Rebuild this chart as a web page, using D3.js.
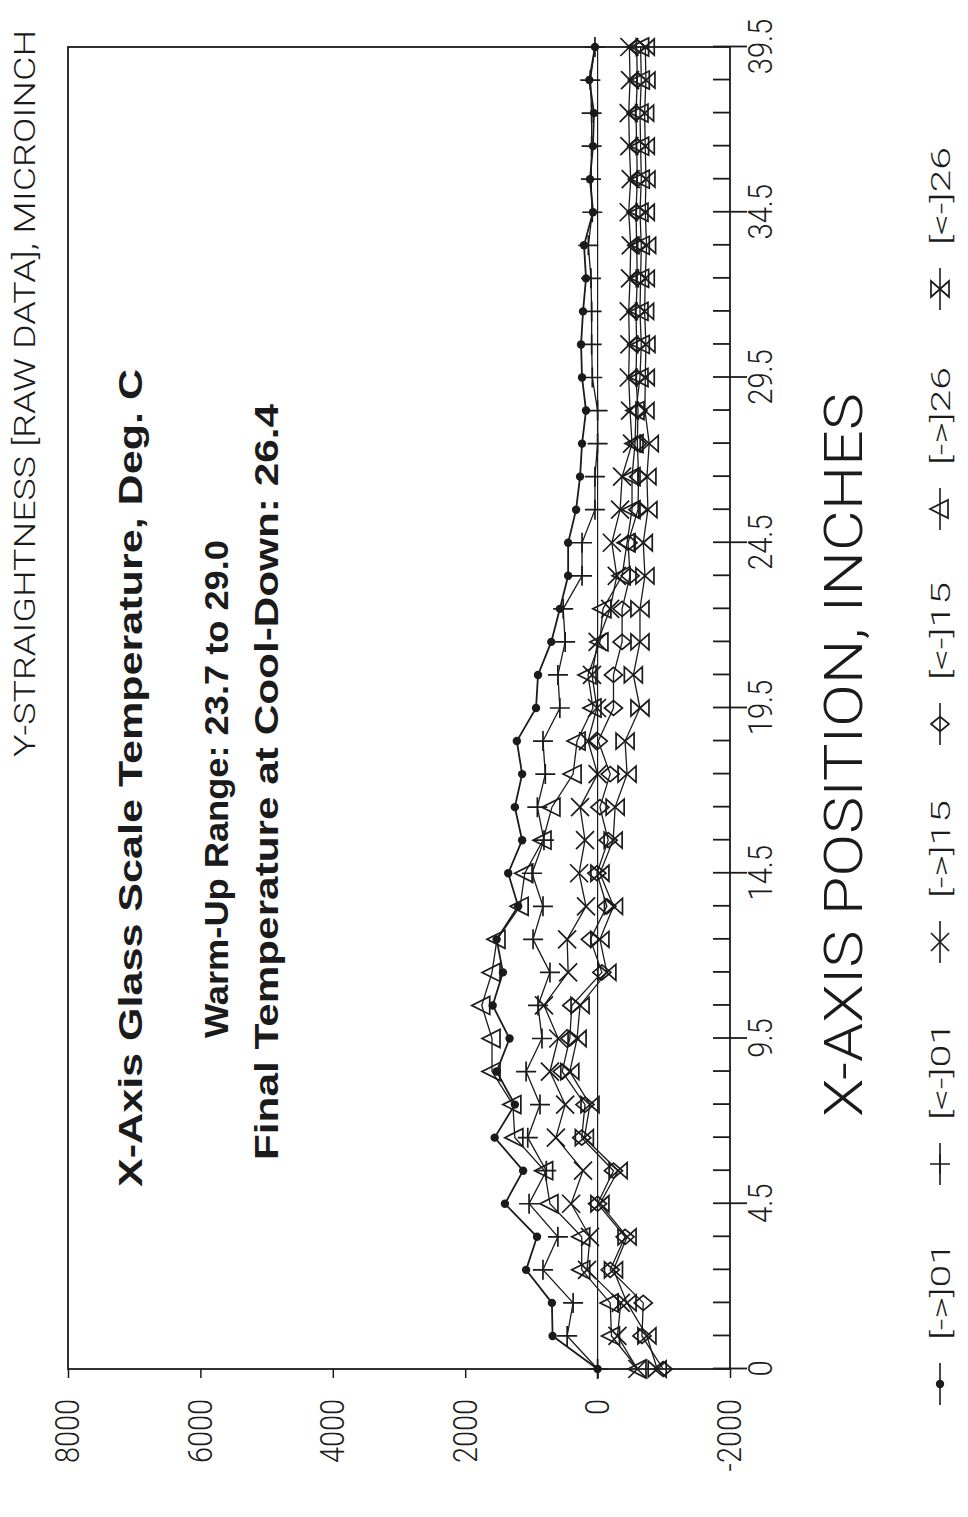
<!DOCTYPE html>
<html><head><meta charset="utf-8">
<script src="https://cdn.jsdelivr.net/npm/d3@7"></script>
<style>body{margin:0;background:#fff}svg{display:block}</style>
</head><body>
<svg id="c" width="968" height="1517"></svg>
<script>
// ---- data ----
const positions = [0,0.5,1.5,2.5,3.5,4.5,5.5,6.5,7.5,8.5,9.5,10.5,11.5,12.5,13.5,14.5,15.5,16.5,17.5,18.5,19.5,20.5,21.5,22.5,23.5,24.5,25.5,26.5,27.5,28.5,29.5,30.5,31.5,32.5,33.5,34.5,35.5,36.5,37.5,38.5,39.5];
const xTickLabels = [0,4.5,9.5,14.5,19.5,24.5,29.5,34.5,39.5];
const yTickLabels = [-2000,0,2000,4000,6000,8000];
const seriesNames = ["[->]01","[<-]01","[->]15","[<-]15","[->]26","[<-]26"];
const fwd01 = [0,680,690,1080,915,1400,1125,1555,1250,1525,1330,1585,1430,1525,1200,1350,1140,1250,1140,1220,930,900,700,570,445,445,325,265,235,175,235,250,220,175,205,70,115,70,55,125,40];
const rev01 = [0,460,370,825,600,1035,775,1055,870,1080,840,900,720,975,825,990,810,910,790,825,570,600,490,520,235,235,40,40,0,0,80,90,90,100,140,80,100,90,90,110,40];
const fwd15 = [-600,-300,-350,160,115,400,220,630,490,720,595,810,445,460,175,280,190,265,0,145,10,85,0,-190,-290,-215,-340,-370,-520,-490,-470,-480,-470,-490,-500,-470,-500,-480,-470,-490,-480];
const rev15 = [-990,-670,-690,-190,-415,0,-240,240,190,535,420,390,-65,110,-140,10,-160,-35,-190,-10,-240,-240,-370,-370,-490,-460,-610,-620,-600,-610,-580,-590,-580,-600,-590,-580,-600,-590,-580,-600,-590];
const fwd26 = [-610,-210,-190,240,240,720,800,1250,1280,1595,1595,1750,1595,1520,1170,1100,825,690,370,310,70,145,-35,-80,-370,-445,-520,-520,-565,-580,-640,-660,-640,-650,-660,-640,-660,-650,-640,-660,-650];
const rev26 = [-900,-745,-445,-240,-445,-35,-310,200,115,420,310,265,-140,-35,-240,-35,-235,-265,-445,-415,-640,-540,-640,-640,-715,-690,-760,-745,-780,-715,-720,-730,-710,-720,-740,-720,-730,-720,-710,-730,-720];
const seriesValues = [fwd01, rev01, fwd15, rev15, fwd26, rev26];
const markerKinds = ["dot","plus","cross","diamond","triangle","bowtie"];

// ---- layout (chart drawn unrotated, then turned -90deg) ----
const W = 1517, H = 968;
const svg = d3.select("#c");
const g = svg.append("g").attr("transform", `translate(0,${W}) rotate(-90)`);
const light = "Roboto, 'Liberation Sans', sans-serif";
const ink = "#1b1b1b";

const x = d3.scalePoint().domain(positions).range([148, 1470]);
const y = d3.scaleLinear().domain([-2000, 8000]).range([730, 68]);

function condense(sel, k) {
  sel.each(function () {
    const L = this.getComputedTextLength();
    if (L > 0) d3.select(this).attr("textLength", L * k).attr("lengthAdjust", "spacingAndGlyphs");
  });
}
function fit(sel, len) {
  sel.attr("textLength", len).attr("lengthAdjust", "spacingAndGlyphs");
}

// frame
g.append("rect").attr("x", 148).attr("y", 68).attr("width", 1470 - 148).attr("height", 730 - 68)
  .attr("fill", "none").attr("stroke", ink).attr("stroke-width", 1.8);
// zero line
g.append("line").attr("x1", 148).attr("x2", 1470).attr("y1", y(0)).attr("y2", y(0))
  .attr("stroke", ink).attr("stroke-width", 1.2);

// x axis: minor inward ticks
const axMinor = g.append("g").attr("transform", "translate(0,730)")
  .call(d3.axisTop(x).tickSize(17).tickFormat(""));
// major ticks outward with labels
const axMajor = g.append("g").attr("transform", "translate(0,730)")
  .call(d3.axisBottom(x).tickValues(xTickLabels).tickSize(17).tickPadding(1)
    .tickFormat(d => String(d)));
[axMinor, axMajor].forEach(a => {
  a.select(".domain").remove();
  a.selectAll("line").attr("stroke", ink).attr("stroke-width", 1.8);
});
axMajor.selectAll("text").attr("font-family", light).attr("font-weight", 300)
  .attr("font-size", 34).attr("fill", ink).attr("dy", "0.71em");
condense(axMajor.selectAll("text"), 0.86);

// y axis (value axis) on left
const axY = g.append("g").attr("transform", "translate(148,0)")
  .call(d3.axisLeft(y).tickValues(yTickLabels).tickSize(9).tickPadding(21).tickFormat(d => String(d)));
axY.select(".domain").remove();
axY.selectAll("line").attr("stroke", ink).attr("stroke-width", 1.5);
axY.selectAll("text").attr("font-family", light).attr("font-weight", 300)
  .attr("font-size", 34).attr("fill", ink);
condense(axY.selectAll("text"), 0.85);

// titles
g.append("text").attr("x", 760).attr("y", 35).attr("font-family", light).attr("font-weight", 300)
  .attr("font-size", 30).attr("fill", ink).text("Y-STRAIGHTNESS [RAW DATA], MICROINCH").call(fit, 727);
g.append("text").attr("x", 762).attr("y", 862).attr("text-anchor", "middle").attr("font-family", light)
  .attr("font-weight", 300).attr("font-size", 54).attr("fill", ink).text("X-AXIS POSITION, INCHES").call(fit, 724);

// annotations
const bold = "'Liberation Sans', Arial, sans-serif";
const notes = [
  {t: "X-Axis Glass Scale Temperature, Deg. C", u: 739, v: 142, len: 818},
  {t: "Warm-Up Range: 23.7 to 29.0", u: 728, v: 228, len: 498},
  {t: "Final Temperature at Cool-Down: 26.4", u: 735, v: 278, len: 756}
];
notes.forEach(n => g.append("text").attr("x", n.u).attr("y", n.v).attr("text-anchor", "middle")
  .attr("font-family", bold).attr("font-weight", "bold").attr("font-size", 33).attr("fill", ink)
  .text(n.t).call(fit, n.len));

// markers
const markerPath = {
  plus: "M-10,0H10M0,-10V10",
  cross: "M-9,-9L9,9M-9,9L9,-9",
  diamond: "M0,-9L7.5,0L0,9L-7.5,0Z",
  triangle: "M0,-10L9,8L-9,8Z",
  bowtie: "M-8,-9L8,-9L-8,9L8,9Z"
};
function drawMarker(sel, kind) {
  if (kind === "dot") {
    sel.append("circle").attr("r", 4.2).attr("fill", ink);
  } else {
    sel.append("path").attr("d", markerPath[kind]).attr("fill", "none")
      .attr("stroke", ink).attr("stroke-width", 1.7);
  }
}

const line = d3.line().x((d, i) => x(positions[i])).y(d => y(d));
const plot = g.append("g");
seriesValues.forEach((vals, s) => {
  plot.append("path").datum(vals).attr("d", line).attr("fill", "none")
    .attr("stroke", ink).attr("stroke-width", s === 0 ? 1.8 : 1.3);
});
seriesValues.forEach((vals, s) => {
  const m = plot.append("g").selectAll("g").data(vals).join("g")
    .attr("transform", (d, i) => `translate(${x(positions[i])},${y(d)})`);
  drawMarker(m, markerKinds[s]);
});

// legend
const legStarts = [112, 332, 554, 772, 987, 1207];
seriesNames.forEach((name, s) => {
  const lg = g.append("g").attr("transform", `translate(${legStarts[s]},940)`);
  lg.append("line").attr("x1", 0).attr("x2", 42).attr("y1", 0).attr("y2", 0)
    .attr("stroke", ink).attr("stroke-width", 1.6);
  const mk = lg.append("g").attr("transform", "translate(21,0)");
  drawMarker(mk, markerKinds[s]);
  lg.append("text").attr("x", 65).attr("y", 10).attr("font-family", light).attr("font-weight", 300)
    .attr("font-size", 25).attr("fill", ink).text(name).call(fit, 98);
});
</script>
</body></html>
